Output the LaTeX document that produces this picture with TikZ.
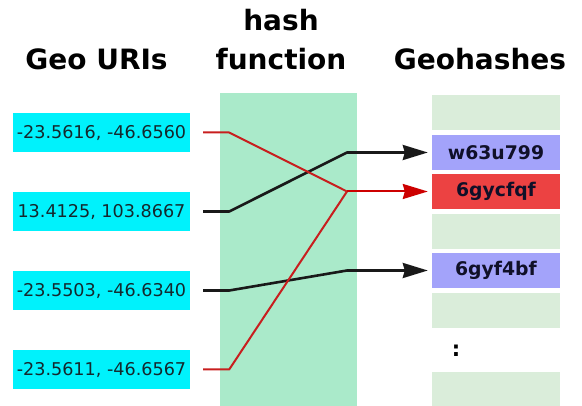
\documentclass[tikz,border=0pt]{standalone}
\usepackage{fontspec}
\setmainfont{DejaVu Sans}
\usetikzlibrary{arrows.meta}
\definecolor{uricyan}{RGB}{0,242,252}
\definecolor{hashgreen}{RGB}{170,234,202}
\definecolor{slotgreen}{RGB}{218,237,218}
\definecolor{slotblue}{RGB}{163,163,250}
\definecolor{slotred}{RGB}{236,66,66}
\definecolor{linered}{RGB}{200,30,30}
\definecolor{arrowred}{RGB}{205,0,0}
\definecolor{uritext}{RGB}{20,40,45}
\definecolor{slottext}{RGB}{16,16,40}
\begin{document}
\begin{tikzpicture}[x=1pt,y=-1pt,
  header/.style={font=\fontsize{28}{30}\selectfont\bfseries, inner sep=0pt, anchor=base},
  uri/.style={fill=uricyan, minimum width=177pt, minimum height=39pt, inner sep=0pt,
    text=uritext, font=\fontsize{17.6}{20}\selectfont},
  slot/.style={fill=slotgreen, minimum width=128pt, minimum height=35pt, inner sep=0pt,
    text=slottext, font=\fontsize{18.8}{20}\selectfont\bfseries},
  hit/.style={slot, fill=slotblue},
  collide/.style={slot, fill=slotred},
  blacklink/.style={line width=2.6pt, line join=round, draw=black!90},
  redlink/.style={line width=2pt, line join=round, draw=linered},
  tip/.style={-{Stealth[length=25pt,width=15pt,inset=2pt]}, shorten >=4pt},
]
\useasboundingbox (0,0) rectangle (582,406);

% column headings
\node[header] (hdruri) at (96.5,70) {Geo URIs};
\node[header] (hdrhash) at (281,31) {hash};
\node[header] (hdrfun) at (281,70) {function};
\node[header] (hdrgeo) at (480,70) {Geohashes};

% hash function band
\node[fill=hashgreen, minimum width=137pt, minimum height=327pt, inner sep=0pt]
  (hashband) at (288.5,256.5) {};

% input coordinates
\node[uri] (u1) at (101.5,132.5) {-23.5616, -46.6560};
\node[uri] (u2) at (101.5,211.5) {13.4125, 103.8667};
\node[uri] (u3) at (101.5,290.5) {-23.5503, -46.6340};
\node[uri] (u4) at (101.5,369.5) {-23.5611, -46.6567};

% geohash table
\node[slot] (g0) at (496,112.5) {};
\node[hit] (g1) at (496,152.5) {w63u799};
\node[collide] (g2) at (496,191.5) {6gycfqf};
\node[slot] (g3) at (496,231.5) {};
\node[hit] (g4) at (496,270.5) {6gyf4bf};
\node[slot] (g5) at (496,310.5) {};
\node[font=\fontsize{21}{22}\selectfont\bfseries, inner sep=0pt] (gdots) at (456,351) {:};
\node[slot] (g6) at (496,389.5) {};

% bend points inside the hash band
\coordinate (jb1) at (347,152.5);
\coordinate (jr) at (347,191.5);
\coordinate (jb2) at (347,270.5);

% mappings
\draw[blacklink, tip, shorten <=13pt] (u2.east) -- ++(39,0) -- (jb1) -- (g1.west);
\draw[blacklink, tip, shorten <=13pt] (u3.east) -- ++(39,0) -- (jb2) -- (g4.west);
\draw[redlink, shorten <=13pt] (u4.east) -- ++(39,0) -- (jr);
\draw[redlink, shorten <=13pt] (u1.east) -- ++(39,0) -- (jr);
\draw[redlink, tip, draw=arrowred, fill=arrowred] (jr) -- (g2.west);
\end{tikzpicture}
\end{document}
